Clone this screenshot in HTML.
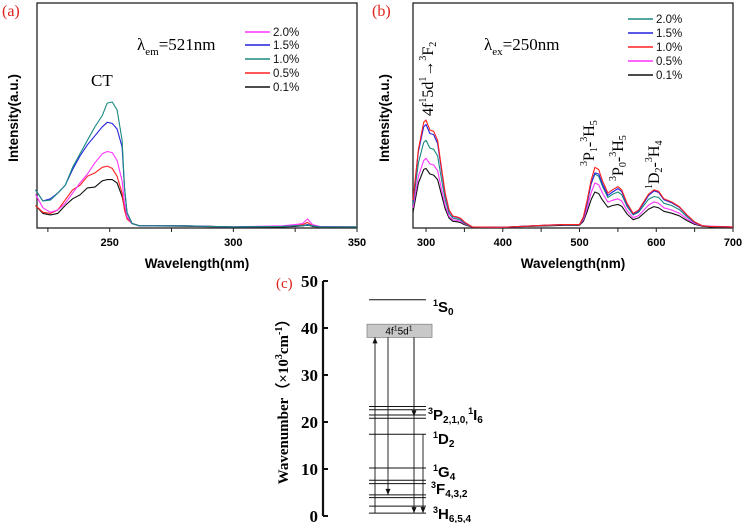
<!DOCTYPE html>
<html><head><meta charset="utf-8"><style>
html,body{margin:0;padding:0;background:#fff;width:743px;height:523px;overflow:hidden}
svg{display:block}
.sans{font-family:"Liberation Sans",sans-serif}
.serif{font-family:"Liberation Serif",serif}
</style></head><body>
<svg id="fig" width="743" height="523" viewBox="0 0 743 523" xmlns="http://www.w3.org/2000/svg">
<g id="pa"></g>
<g id="pb"></g>
<g id="pc"></g>
</svg>
<script>
// ---- Panel (a) data: excitation spectra ----
const aWl = [220,223,226,229,232,235,238,241,244,247,249,251,253,255,256,257,259,262,280,300,320,325,328,330,332,335,350];
const aTeal = [17,12,12.4,15.5,19,27,33,39,45,50,55.5,56,52.5,39,18,6.7,2,1,1,0.5,0.7,1,1,1.2,1,0.5,0.5];
const aBlue = [17,12,13,15.5,19,26,32,37,41,45,47,46.5,44,36,18,7,2,1,1,0.5,0.7,1,1,1.5,1,0.5,0.5];
const aMagenta = [15,9,7,8,11,15.5,20,24,29,33,34,33.5,30,21,11,5,2,1,1,0.5,1,1.5,2,4,1.5,0.7,0.5];
const aRed = [10,7,6.5,8,12.5,17,19,23,24.5,27,27.5,26.5,23,15.5,8,4,2,1,1,0.5,0.7,1,1.5,2.5,1,0.5,0.5];
const aBlack = [10,6.5,5.8,6.5,10,13,14.7,17.8,18.2,21,21.5,21.5,20,14,9,5,2,1,0.8,0.4,0.5,0.7,1,1.5,0.7,0.4,0.4];
const aTicks = [225,250,275,300,325,350];
const aTickLabels = ["","250","","300","","350"];
const aLegend = ["2.0%","1.5%","1.0%","0.5%","0.1%"];
// ---- Panel (b) data: emission spectra ----
const bWl = [283,290,297,300,305,310,315,320,325,330,335,340,345,350,360,400,440,460,480,500,505,510,515,520,525,530,537,543,550,555,562,570,577,585,590,597,603,610,620,630,640,650,660,670,700];
const bRed = [12.4,35,47,48,43.5,43,39,27,15.5,8,5.3,5,4.3,2.7,0.5,0.3,1,1.3,1.5,1.5,5,12.4,21,27,26,21,15.5,17,18.4,17,11,6.5,8,12.4,15.1,17,16.3,13,11.6,9.5,5.8,2.7,1,0.7,0.4];
const bBlue = [12,34,45,46,42,41.5,37.5,26,15,7.7,5.1,4.8,4.1,2.6,0.5,0.3,1,1.3,1.5,1.5,4.7,11.5,19.5,24.5,24,19.5,14.5,16,17.5,16.2,10.4,6.2,7.6,11.8,14.5,16.5,15.8,12.6,11.2,9.2,5.6,2.6,1,0.7,0.4];
const bTeal = [10.5,29,38,39,35.5,35,32,22,12.6,6.5,4.4,4.1,3.5,2.2,0.5,0.3,1,1.2,1.4,1.4,4.4,11,19.5,24,23,18.5,13.5,15,16,14.8,9.5,5.8,7,10.6,12.8,14,13.6,11,10,8.2,5,2.4,1,0.7,0.4];
const bMagenta = [9,23,30,31,28.5,28,25.5,17.5,10,5.2,3.6,3.4,2.9,1.9,0.5,0.3,1,1.2,1.4,1.4,3.7,9,15.5,20,19.2,15.5,11.5,12.3,13,12,7.7,4.6,5.5,8.4,10.2,11.6,11,9,8,6.6,4,2,1,0.8,0.5];
const bBlack = [7,20,26,26.5,24,23.5,21.5,15,8.5,4.4,3,2.8,2.4,1.5,0.4,0.3,0.8,1,1.2,1.2,3,7.3,12.5,16,15.3,12.4,9.2,10,10.5,9.7,6.2,3.7,4.5,6.9,8.4,9.5,9,7.4,6.6,5.4,3.3,1.6,0.8,0.5,0.3];
const bTicks = [300,350,400,450,500,550,600,650,700];
const bTickLabels = ["300","","400","","500","","600","","700"];
const bLegend = ["2.0%","1.5%","1.0%","0.5%","0.1%"];
// ---- Panel (c) data: energy levels (x10^3 cm^-1) ----
const cTicks = [0,10,20,30,40,50];
const cLevels = [46,23.3,22.6,21.5,20.8,17.4,10.2,7.6,6.9,4.5,3.9,2.1,0.6];
const cBoxLow = 38, cBoxHigh = 40.8;

const NS="http://www.w3.org/2000/svg";
function mk(parent,tag,attrs,text){const e=document.createElementNS(NS,tag);for(const k in attrs)e.setAttribute(k,attrs[k]);if(text!==undefined)e.textContent=text;parent.appendChild(e);return e;}

const yTop=3, yBot=228;
function yv(v){return yBot-(v/100)*(yBot-yTop);}

function panel(g,x0,x1,wmin,wmax,ticks,tickLabels){
  const xs=w=>x0+(w-wmin)/(wmax-wmin)*(x1-x0);
  const fr=mk(g,'rect',{x:x0,y:yTop,width:x1-x0,height:yBot-yTop,fill:'none',stroke:'#222','stroke-width':1.3});
  
  
  ticks.forEach((t,i)=>{
    const X=xs(t);
    const tk=mk(g,'line',{x1:X,x2:X,y1:yBot,y2:yBot+4,stroke:'#222','stroke-width':1});
    
    
    if(tickLabels[i]){
      const tl=mk(g,'text',{x:X,y:246,'text-anchor':'middle','font-size':11,'font-weight':'bold',class:'sans'},tickLabels[i]);
      
      
    }
  });
  return xs;
}
function series(g,xs,wl,vals,color,name){
  let d='';wl.forEach((w,i)=>{d+=(i?'L':'M')+xs(w).toFixed(1)+','+yv(vals[i]).toFixed(1);});
  const p=mk(g,'path',{d:d,fill:'none',stroke:color,'stroke-width':1.1,'stroke-linejoin':'round'});
  
  
}
function legend(g,x,ys,labels,colors){
  labels.forEach((l,i)=>{
    const ln=mk(g,'line',{x1:x,x2:x+25,y1:ys[i],y2:ys[i],stroke:colors[i],'stroke-width':1.5});
    
    
    const t=mk(g,'text',{x:x+28,y:ys[i]+4,'font-size':11.5,class:'sans',fill:'#111'},l);
    
    
  });
}
function axisTitles(g,cx,yx,label){
  const xt=mk(g,'text',{x:cx,y:268,'text-anchor':'middle','font-size':13.5,'font-weight':'bold',class:'sans'},'Wavelength(nm)');
  
  
  const yt=mk(g,'text',{x:0,y:0,'text-anchor':'middle','font-size':13.5,'font-weight':'bold',class:'sans',transform:`translate(${yx},118) rotate(-90)`},'Intensity(a.u.)');
  
  
  const pl=mk(g,'text',{x:label[0],y:label[1],'font-size':16,fill:'#e0201c',class:'serif'},label[2]);
  
  
}

// Panel A
const ga=document.getElementById('pa');
const xa=panel(ga,37,357,220.6,350,aTicks,aTickLabels);
series(ga,xa,aWl,aBlack,'#111','series-0.1pct');
series(ga,xa,aWl,aRed,'#ff2020','series-0.5pct');
series(ga,xa,aWl,aMagenta,'#ff33ff','series-2.0pct');
series(ga,xa,aWl,aBlue,'#2222dd','series-1.5pct');
series(ga,xa,aWl,aTeal,'#1a8a80','series-1.0pct');
legend(ga,245,[32,45,59,73,87],aLegend,['#ff33ff','#2222dd','#1a8a80','#ff2020','#111']);
axisTitles(ga,197,18,[2,16,'(a)']);
const la=mk(ga,'text',{x:137,y:50,'font-size':17,class:'serif'});


la.innerHTML='λ<tspan font-size="11" dy="5">em</tspan><tspan dy="-5">=521nm</tspan>';
const ct=mk(ga,'text',{x:91,y:86,'font-size':17,class:'serif'},'CT');



// Panel B
const gb=document.getElementById('pb');
const xb=panel(gb,413,733,283,700,bTicks,bTickLabels);
series(gb,xb,bWl,bBlack,'#111','series-0.1pct');
series(gb,xb,bWl,bMagenta,'#ff33ff','series-0.5pct');
series(gb,xb,bWl,bTeal,'#1a8a80','series-2.0pct');
series(gb,xb,bWl,bBlue,'#2222dd','series-1.5pct');
series(gb,xb,bWl,bRed,'#ff2020','series-1.0pct');
legend(gb,628,[19,33,47,61,75],bLegend,['#1a8a80','#2222dd','#ff2020','#ff33ff','#111']);
axisTitles(gb,573,389,[372,16,'(b)']);
const lb=mk(gb,'text',{x:484,y:50,'font-size':17,class:'serif'});


lb.innerHTML='λ<tspan font-size="11" dy="5">ex</tspan><tspan dy="-5">=250nm</tspan>';
function rot(g,x,y,html,name){
  const t=mk(g,'text',{x:0,y:0,'font-size':16,class:'serif',transform:`translate(${x},${y}) rotate(-90)`});
  t.innerHTML=html;
  
  
}
rot(gb,433,116,'4f<tspan font-size="10" dy="-7">1</tspan><tspan dy="7">5d</tspan><tspan font-size="10" dy="-7">1</tspan><tspan dy="7">→</tspan><tspan font-size="10" dy="-7">3</tspan><tspan dy="7">F</tspan><tspan font-size="10" dy="3">2</tspan>','transition-4f5d-3F2');
rot(gb,594,166,'<tspan font-size="10" dy="-7">3</tspan><tspan dy="7">P</tspan><tspan font-size="10" dy="3">1</tspan><tspan dy="-3">-</tspan><tspan font-size="10" dy="-7">3</tspan><tspan dy="7">H</tspan><tspan font-size="10" dy="3">5</tspan>','transition-3P1-3H5');
rot(gb,623,181,'<tspan font-size="10" dy="-7">3</tspan><tspan dy="7">P</tspan><tspan font-size="10" dy="3">0</tspan><tspan dy="-3">-</tspan><tspan font-size="10" dy="-7">3</tspan><tspan dy="7">H</tspan><tspan font-size="10" dy="3">5</tspan>','transition-3P0-3H5');
rot(gb,659,189,'<tspan font-size="10" dy="-7">1</tspan><tspan dy="7">D</tspan><tspan font-size="10" dy="3">2</tspan><tspan dy="-3">-</tspan><tspan font-size="10" dy="-7">3</tspan><tspan dy="7">H</tspan><tspan font-size="10" dy="3">4</tspan>','transition-1D2-3H4');

// Panel C
const gc=document.getElementById('pc');
const cy=v=>516-v*4.7;
const ax=mk(gc,'line',{x1:323,x2:323,y1:cy(50),y2:cy(0),stroke:'#111','stroke-width':2.2});


cTicks.forEach(t=>{
  const tk=mk(gc,'line',{x1:323,x2:328,y1:cy(t),y2:cy(t),stroke:'#111','stroke-width':2});
  
  
  const tl=mk(gc,'text',{x:318,y:cy(t)+6,'text-anchor':'end','font-size':17,'font-weight':'bold',class:'serif'},String(t));
  
  
});
const yt=mk(gc,'text',{x:0,y:0,'text-anchor':'middle','font-size':15,'font-weight':'bold',class:'serif',transform:'translate(288,398) rotate(-90)'});
yt.innerHTML='Wavenumber（×10<tspan font-size="10" dy="-6">3</tspan><tspan dy="6">cm</tspan><tspan font-size="10" dy="-6">-1</tspan><tspan dy="6">）</tspan>';


const pc=mk(gc,'text',{x:276,y:288,'font-size':15,fill:'#e0201c',class:'serif'},'(c)');


cLevels.forEach(v=>{
  const l=mk(gc,'line',{x1:369,x2:426,y1:cy(v),y2:cy(v),stroke:'#111','stroke-width':1});
  
  
});
const box=mk(gc,'rect',{x:367,y:cy(cBoxHigh),width:65,height:cy(cBoxLow)-cy(cBoxHigh),fill:'#c8c8c8',stroke:'#888','stroke-width':0.8});


const bt=mk(gc,'text',{x:399,y:cy(cBoxLow)-3,'text-anchor':'middle','font-size':10,class:'sans'});
bt.innerHTML='4f<tspan font-size="7" dy="-4">1</tspan><tspan dy="4">5d</tspan><tspan font-size="7" dy="-4">1</tspan>';


function arrow(x,from,to,name){
  const l=mk(gc,'line',{x1:x,x2:x,y1:cy(from),y2:cy(to),stroke:'#111','stroke-width':0.9});
  
  
  const Y=cy(to),dir=to>from?1:-1;
  const h=mk(gc,'path',{d:`M${x-2.5},${Y+dir*6}L${x},${Y}L${x+2.5},${Y+dir*6}Z`,fill:'#111'});
  
  
}
arrow(375,0.6,cBoxLow,'excitation-arrow');
arrow(388,cBoxLow,4.5,'emission-arrow-3F');
arrow(414,cBoxLow,0.6,'emission-arrow-3H');
arrow(414,cBoxLow,21.2,'relaxation-arrow-3P');
arrow(423,17.4,0.6,'emission-arrow-1D2');
function lvl(x,y,html,name){
  const t=mk(gc,'text',{x:x,y:y,'font-size':15,'font-weight':'bold',class:'sans'});
  t.innerHTML=html;
  
  
}
const S='<tspan font-size="9" dy="-6">',E='</tspan>';
lvl(433,312,S+'1'+E+'<tspan dy="6">S</tspan><tspan font-size="10" dy="3">0</tspan>','label-1S0');
lvl(428,420,S+'3'+E+'<tspan dy="6">P</tspan><tspan font-size="10" dy="3">2,1,0,</tspan><tspan font-size="9" dy="-9">1</tspan><tspan dy="6">I</tspan><tspan font-size="10" dy="3">6</tspan>','label-3P-1I6');
lvl(433,444,S+'1'+E+'<tspan dy="6">D</tspan><tspan font-size="10" dy="3">2</tspan>','label-1D2');
lvl(433,477,S+'1'+E+'<tspan dy="6">G</tspan><tspan font-size="10" dy="3">4</tspan>','label-1G4');
lvl(431,494,S+'3'+E+'<tspan dy="6">F</tspan><tspan font-size="10" dy="3">4,3,2</tspan>','label-3F');
lvl(433,519,S+'3'+E+'<tspan dy="6">H</tspan><tspan font-size="10" dy="3">6,5,4</tspan>','label-3H');
</script>
</body></html>
